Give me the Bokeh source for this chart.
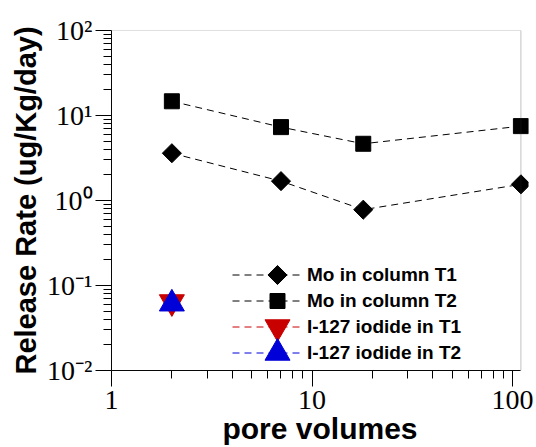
import numpy as np
from bokeh.plotting import figure
from bokeh.models import (Range1d, FixedTicker, CustomJSTickFormatter, Legend, LegendItem,
                          BoxAnnotation, LinearScale)
from bokeh.embed import file_html
from bokeh.resources import INLINE

# ---- data ----
pv_mo = [2.0, 7.0, 18.0, 110.0]
mo_t1 = [3.6, 1.69, 0.78, 1.55]
mo_t2 = [14.7, 7.3, 4.65, 7.5]
pv_iod = [2.0]
iod_t1 = [0.064]
iod_t2 = [0.061]

labels = ["Mo in column T1", "Mo in column T2", "I-127 iodide in T1", "I-127 iodide in T2"]
x_major = [1, 10, 100]
y_major = [0.01, 0.1, 1, 10, 100]

RED = "#c80000"
BLUE = "#0000d8"

# ---- layout constants ----
FRAME_W, FRAME_H = 417, 340
LEG_X, LEG_Y = 121, 5          # legend bottom-left, px from frame bottom-left
ROW_H, ROW_GAP = 25, 1
KEY_X = 166                    # legend marker x, px from frame left

p = figure(width=536, height=447, x_axis_type="log", y_axis_type="log",
           x_range=Range1d(1, 120), y_range=Range1d(0.01, 100),
           output_backend="svg", toolbar_location=None,
           min_border_left=111, min_border_top=30, min_border_right=8,
           frame_width=FRAME_W, frame_height=FRAME_H)
p.outline_line_color = None
p.xgrid.visible = False
p.ygrid.visible = False
p.background_fill_color = "white"
p.border_fill_color = "white"

# pixel-space ranges for legend keys
p.extra_x_ranges = {"px": Range1d(0, FRAME_W)}
p.extra_y_ranges = {"py": Range1d(0, FRAME_H)}
p.extra_x_scales = {"px": LinearScale()}
p.extra_y_scales = {"py": LinearScale()}

# frame box (outline up to x = 110)
p.add_layout(BoxAnnotation(left=1, right=110, bottom=0.01, top=100,
                           fill_alpha=0, line_color="#333333", line_width=1))

dash = "7 5"
l1 = p.line(pv_mo, mo_t1, line_color="black", line_dash=dash, line_width=1)
p.scatter(pv_mo, mo_t1, marker="square", angle=np.pi / 4, size=13.5,
          fill_color="black", line_color="black")
l2 = p.line(pv_mo, mo_t2, line_color="black", line_dash=dash, line_width=1)
p.scatter(pv_mo, mo_t2, marker="square", size=15,
          fill_color="black", line_color="black")
l3 = p.line(pv_iod, iod_t1, line_color=RED, line_dash=dash, line_width=1)
p.scatter(pv_iod, iod_t1, marker="inverted_triangle", size=25,
          fill_color=RED, line_color=RED)
l4 = p.line(pv_iod, iod_t2, line_color=BLUE, line_dash=dash, line_width=1)
p.scatter(pv_iod, iod_t2, marker="triangle", size=25,
          fill_color=BLUE, line_color=BLUE)

# axes
x_minor = [m * 10 ** e for e in range(0, 2) for m in range(2, 10)]
y_minor = [m * 10.0 ** e for e in range(-2, 2) for m in range(2, 10)]
p.xaxis.ticker = FixedTicker(ticks=x_major, minor_ticks=x_minor)
p.yaxis.ticker = FixedTicker(ticks=y_major, minor_ticks=y_minor)
p.xaxis.bounds = (1, 110)

p.xaxis.formatter = CustomJSTickFormatter(code="return String(Math.round(tick));")
p.yaxis.formatter = CustomJSTickFormatter(code="""
const sup = {"-":"\u207b","0":"\u2070","1":"\u00b9","2":"\u00b2","3":"\u00b3"};
const e = Math.round(Math.log10(tick));
return "10" + String(e).split("").map(c => sup[c]).join("");
""")

for ax in (p.xaxis[0], p.yaxis[0]):
    ax.axis_line_color = "black"
    ax.axis_line_width = 1
    ax.major_tick_line_color = "black"
    ax.minor_tick_line_color = "black"
    ax.major_tick_in = 0
    ax.minor_tick_in = 0
    ax.major_tick_out = 16
    ax.minor_tick_out = 8
    ax.major_label_text_font = "Liberation Serif"
    ax.major_label_text_font_size = "28px"
    ax.major_label_text_color = "black"
    ax.axis_label_text_font = "Liberation Sans"
    ax.axis_label_text_font_style = "bold"
    ax.axis_label_text_color = "black"

p.xaxis.axis_label = "pore volumes"
p.yaxis.axis_label = "Release Rate (ug/Kg/day)"
p.xaxis.axis_label_text_font_size = "30px"
p.yaxis.axis_label_text_font_size = "29px"
p.xaxis.major_label_standoff = 4
p.yaxis.major_label_standoff = 3
p.xaxis.axis_label_standoff = 0
p.yaxis.axis_label_standoff = 2

legend = Legend(items=[
    LegendItem(label=labels[0], renderers=[l1]),
    LegendItem(label=labels[1], renderers=[l2]),
    LegendItem(label=labels[2], renderers=[l3]),
    LegendItem(label=labels[3], renderers=[l4]),
], location=(LEG_X, LEG_Y))
legend.border_line_alpha = 0
legend.background_fill_alpha = 0
legend.padding = 0
legend.margin = 0
legend.spacing = ROW_GAP
legend.glyph_width = 68
legend.glyph_height = ROW_H
legend.label_height = ROW_H
legend.label_standoff = 7
legend.label_text_font = "Liberation Sans"
legend.label_text_font_style = "bold"
legend.label_text_font_size = "19px"
legend.label_text_color = "black"
p.add_layout(legend, "center")

# legend keys (markers), drawn at the legend's row centres in pixel space
leg_h = 4 * ROW_H + 3 * ROW_GAP
row_y = [LEG_Y + leg_h - ROW_H / 2 - i * (ROW_H + ROW_GAP) for i in range(4)]
kw = dict(x_range_name="px", y_range_name="py")
p.scatter([KEY_X], [row_y[0]], marker="square", angle=np.pi / 4, size=13.5,
          fill_color="black", line_color="black", **kw)
p.scatter([KEY_X], [row_y[1]], marker="square", size=15,
          fill_color="black", line_color="black", **kw)
p.scatter([KEY_X], [row_y[2]], marker="inverted_triangle", size=25,
          fill_color=RED, line_color=RED, **kw)
p.scatter([KEY_X], [row_y[3]], marker="triangle", size=25,
          fill_color=BLUE, line_color=BLUE, **kw)

open("out.html", "w").write(file_html(p, INLINE))
